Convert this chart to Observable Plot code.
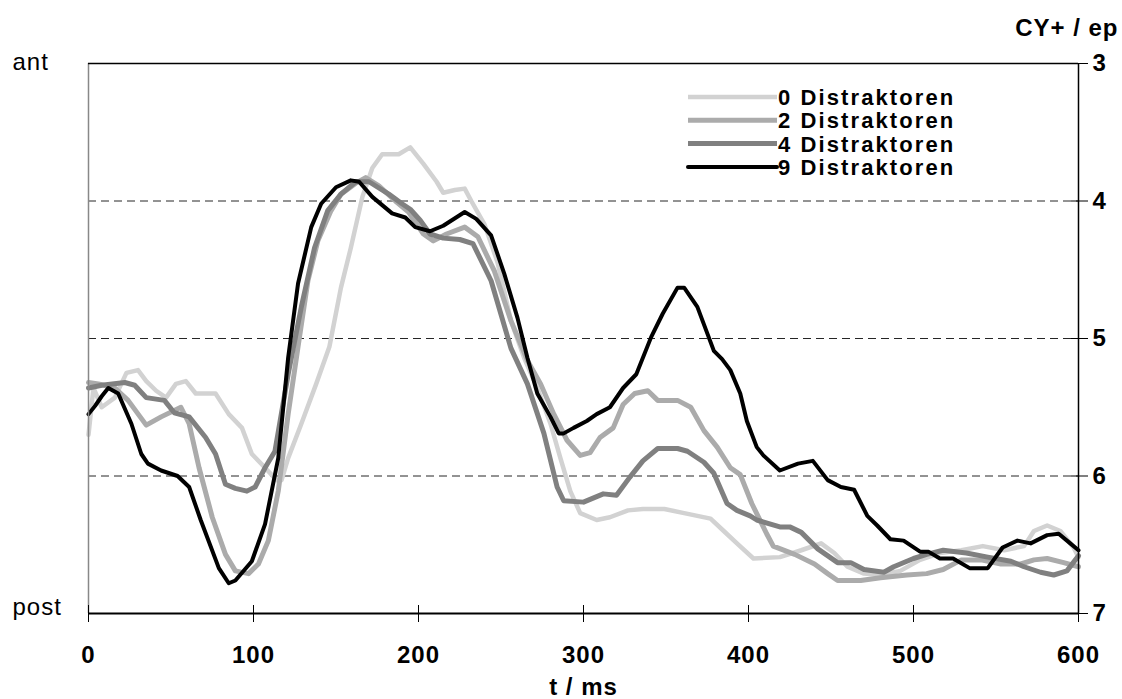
<!DOCTYPE html>
<html><head><meta charset="utf-8">
<script src="https://cdn.jsdelivr.net/npm/d3@7"></script>
<script src="https://cdn.jsdelivr.net/npm/@observablehq/plot@0.6"></script>
<style>
body{margin:0;background:#fff}
#chart svg{font-family:"Liberation Sans",Arial,sans-serif;letter-spacing:1px}
</style>
</head><body><div id="chart"></div>
<script>
// ---- data ----
const seriesNames = ["0 Distraktoren", "2 Distraktoren", "4 Distraktoren", "9 Distraktoren"];

const t0 = [0,3,8,16,23,30,35,41,47,53,59,65,77,85,93,99,107,114,117,121,129,138,146,153,159,166,172,178,188,195,203,211,215,222,228,232,240,248,256,264,272,280,286,292,298,308,316,327,336,349,361,377,385,393,403,419,432,444,452,460,470,480,492,504,516,529,542,555,567,573,581,589,597,600];
const v0 = [5.70,5.36,5.50,5.43,5.25,5.23,5.31,5.38,5.43,5.33,5.31,5.40,5.40,5.55,5.65,5.84,5.94,6.03,6.03,5.87,5.62,5.33,5.06,4.63,4.34,3.97,3.76,3.66,3.66,3.61,3.73,3.86,3.94,3.92,3.91,4.00,4.17,4.45,4.87,5.14,5.36,5.62,5.87,6.11,6.27,6.32,6.30,6.25,6.24,6.24,6.27,6.31,6.40,6.49,6.60,6.59,6.54,6.49,6.56,6.66,6.71,6.72,6.69,6.61,6.56,6.54,6.51,6.54,6.51,6.40,6.36,6.40,6.52,6.59];

const t2 = [0,6,16,24,35,44,56,61,67,75,83,89,97,103,109,115,121,127,133,139,147,153,162,168,176,186,194,203,209,217,228,236,246,256,266,274,282,290,298,304,310,318,324,331,339,345,357,365,373,381,389,395,402,411,415,428,440,448,454,468,480,496,508,518,529,541,553,565,573,581,591,600];
const v2 = [5.32,5.33,5.36,5.45,5.63,5.57,5.50,5.62,5.94,6.30,6.57,6.69,6.71,6.64,6.47,6.11,5.55,5.06,4.58,4.29,4.07,3.95,3.87,3.83,3.89,4.00,4.08,4.24,4.29,4.24,4.19,4.26,4.51,4.87,5.16,5.33,5.55,5.74,5.85,5.83,5.72,5.65,5.48,5.40,5.38,5.45,5.45,5.50,5.67,5.79,5.94,5.99,6.20,6.42,6.51,6.57,6.64,6.71,6.76,6.76,6.74,6.72,6.71,6.68,6.61,6.61,6.64,6.64,6.61,6.60,6.63,6.66];

const t4 = [0,8,22,28,35,46,52,61,71,77,83,89,96,101,107,113,121,129,137,145,153,162,170,182,190,195,201,207,215,225,233,244,256,266,276,284,288,300,312,320,328,336,345,357,363,373,379,387,393,401,405,419,425,432,442,454,462,470,482,488,500,508,518,532,545,559,567,577,585,593,600];
const v4 = [5.36,5.34,5.32,5.34,5.43,5.45,5.54,5.57,5.72,5.84,6.06,6.09,6.11,6.08,5.94,5.82,5.26,4.77,4.34,4.07,3.95,3.86,3.86,3.95,4.02,4.06,4.14,4.24,4.27,4.28,4.31,4.58,5.07,5.33,5.69,6.08,6.18,6.19,6.13,6.14,6.01,5.89,5.80,5.80,5.82,5.90,5.98,6.20,6.25,6.29,6.32,6.37,6.37,6.41,6.53,6.63,6.63,6.68,6.70,6.66,6.60,6.57,6.54,6.56,6.59,6.62,6.66,6.70,6.72,6.69,6.58];

const t9 = [0,4,8,12,18,26,32,36,44,54,61,68,79,85,89,99,107,115,121,127,135,141,150,159,164,172,178,184,192,198,207,215,228,235,244,252,260,266,272,280,285,288,294,302,308,316,324,332,341,348,357,361,369,379,384,389,395,399,405,409,419,430,439,448,456,464,472,478,486,494,504,509,516,524,534,545,554,563,571,581,588,595,600];
const v9 = [5.55,5.49,5.42,5.36,5.40,5.62,5.84,5.91,5.96,6.00,6.08,6.32,6.67,6.78,6.76,6.62,6.35,5.87,5.14,4.60,4.19,4.02,3.90,3.85,3.86,3.97,4.03,4.09,4.12,4.19,4.22,4.18,4.08,4.13,4.25,4.53,4.85,5.14,5.40,5.57,5.69,5.69,5.65,5.60,5.55,5.50,5.36,5.26,4.99,4.82,4.63,4.63,4.77,5.09,5.15,5.23,5.40,5.60,5.79,5.85,5.96,5.91,5.89,6.03,6.08,6.10,6.29,6.36,6.46,6.47,6.55,6.55,6.60,6.60,6.67,6.67,6.52,6.47,6.49,6.43,6.42,6.49,6.54];

const xTicks = [0, 100, 200, 300, 400, 500, 600];
const yTicks = [3, 4, 5, 6, 7];
const gridValues = [4, 5, 6];
const yTitle = "CY+ / ep";
const xTitle = "t / ms";
const topLabel = "ant";
const bottomLabel = "post";

// ---- build table ----
const seriesT = [t0, t2, t4, t9];
const seriesV = [v0, v2, v4, v9];
const rows = [];
seriesNames.forEach((name, i) => {
  seriesT[i].forEach((t, j) => rows.push({series: name, t, v: seriesV[i][j]}));
});

// ---- styles ----
const colors = ["#d2d2d2", "#ababab", "#808080", "#000000"];
const widths = [4.5, 5, 5, 4];

function legendMark(index, scales, values, dims) {
  const g = d3.create("svg:g");
  const x0 = 688, x1 = 777, top = 97, step = 23.3;
  seriesNames.forEach((name, i) => {
    const y = top + i * step;
    g.append("line")
      .attr("x1", x0).attr("x2", x1).attr("y1", y).attr("y2", y)
      .attr("stroke", colors[i]).attr("stroke-width", widths[i])
      .attr("stroke-linecap", i === 3 ? "round" : "butt");
    g.append("text")
      .attr("x", x1 + 1).attr("y", y).attr("dy", "0.36em")
      .attr("text-anchor", "start")
      .attr("font-size", 22).attr("font-weight", "bold")
      .attr("letter-spacing", "2.1px")
      .attr("fill", "#000")
      .text(name);
  });
  return g.node();
}

const chart = Plot.plot({
  width: 1122,
  height: 699,
  marginLeft: 88,
  marginRight: 44,
  marginTop: 63,
  marginBottom: 86,
  style: {fontSize: "24px", fontWeight: "bold", background: "#fff", color: "#000"},
  x: {domain: [0, 600]},
  y: {domain: [3, 7], reverse: true},
  marks: [
    Plot.gridY(gridValues, {stroke: "#000", strokeOpacity: 0.85, strokeWidth: 1, strokeDasharray: "8,5"}),
    ...seriesNames.map((name, i) =>
      Plot.line(rows.filter(d => d.series === name), {
        x: "t", y: "v", stroke: colors[i], strokeWidth: widths[i], strokeLinejoin: "round"
      })
    ),
    Plot.ruleX([0], {stroke: "#888", strokeWidth: 1.5}),
    Plot.ruleY([3], {stroke: "#000", strokeWidth: 1.5}),
    Plot.ruleY([7], {stroke: "#000", strokeWidth: 2}),
    Plot.ruleX([600], {stroke: "#000", strokeWidth: 1.5}),
    Plot.axisX(xTicks, {anchor: "bottom", tickSize: 17, dy: -8, tickPadding: 23, label: null, tickFormat: d3.format("d"), fontSize: 24, fontWeight: "bold"}),
    Plot.axisY(yTicks, {anchor: "right", tickSize: 17, dx: -8, tickPadding: 5, label: null, tickFormat: d3.format("d"), fontSize: 24, fontWeight: "bold"}),
    Plot.text([yTitle], {frameAnchor: "top-right", dx: 40, dy: -35, textAnchor: "end", lineAnchor: "middle", fontSize: 24, fontWeight: "bold"}),
    Plot.text([xTitle], {frameAnchor: "bottom", dy: 74, lineAnchor: "middle", fontSize: 24, fontWeight: "bold"}),
    Plot.text([topLabel], {frameAnchor: "top-left", dx: -76, dy: -1, textAnchor: "start", lineAnchor: "middle", fontSize: 24, fontWeight: "normal"}),
    Plot.text([bottomLabel], {frameAnchor: "bottom-left", dx: -76, dy: -6, textAnchor: "start", lineAnchor: "middle", fontSize: 24, fontWeight: "normal"}),
    legendMark
  ]
});
document.getElementById("chart").appendChild(chart);
</script>
</body></html>
